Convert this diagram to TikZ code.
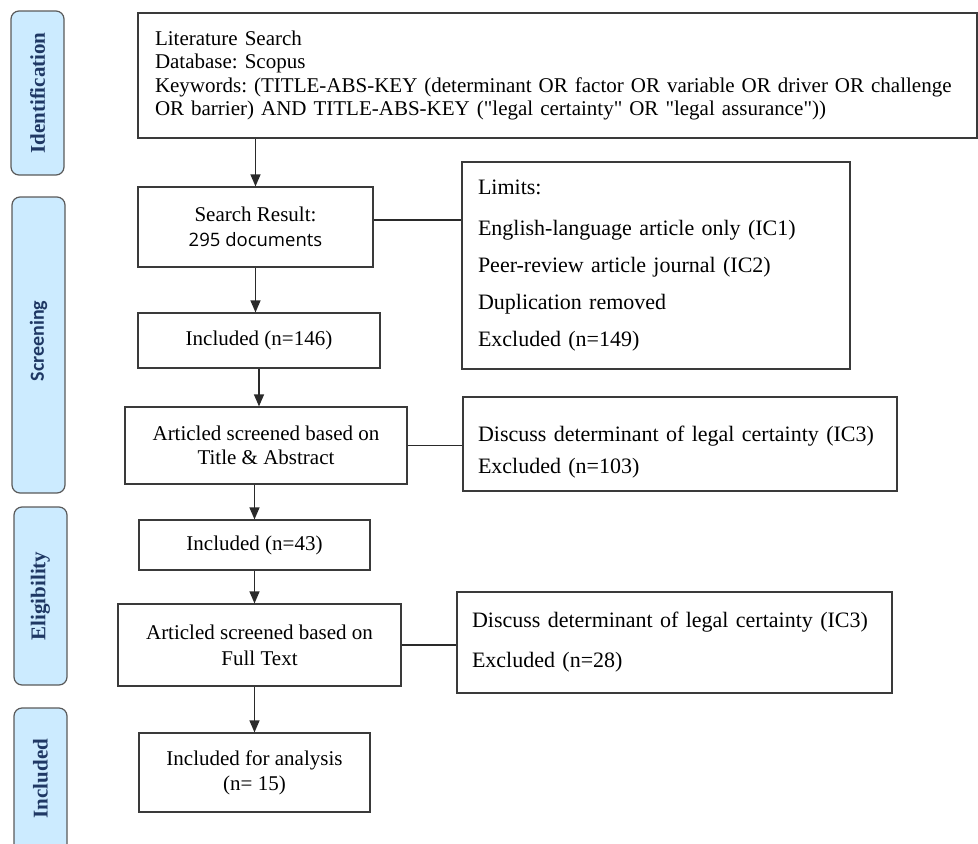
\documentclass[tikz,border=0pt]{standalone}
\usepackage{fontspec}
\setmainfont{Liberation Serif}[Ligatures=TeXOff]
\newfontfamily\osans{Open Sans}
\newfontfamily\carlf{Carlito}
\usetikzlibrary{arrows.meta}
\definecolor{stagefill}{HTML}{CCEBFF}
\definecolor{stagedraw}{HTML}{5A5A5A}
\definecolor{stagetext}{HTML}{1F3864}
\definecolor{boxdraw}{HTML}{3A3A3A}
\definecolor{linecol}{HTML}{2A2A2A}
\frenchspacing
\begin{document}
\begin{tikzpicture}[x=1pt,y=-1pt,
  box/.style={draw=boxdraw, line width=1.2pt, inner sep=0pt, align=center, font=\fontsize{21}{25}\selectfont},
  rbox/.style={draw=boxdraw, line width=1.2pt, inner ysep=0pt, align=left},
  stage/.style={draw=stagedraw, fill=stagefill, line width=1.2pt, rounded corners=8pt, rotate=90, inner sep=0pt, text=stagetext, font=\fontsize{21}{24}\selectfont\bfseries, minimum height=53pt},
  conn/.style={draw=linecol, line width=1.2pt},
  arr/.style={conn, -{Triangle[width=10pt,length=12pt]}}]
\useasboundingbox (0,0) rectangle (978,844);
\clip (0,0) rectangle (978,844);

% stage labels
\node[stage, minimum width=164pt] (sid) at (37.5,93) {Identification};
\node[stage, minimum width=296pt] (sscr) at (38.5,345) {\hspace*{8pt}{\carlf\fontsize{20}{24}\selectfont\bfseries Screening}};
\node[stage, minimum width=178pt] (selig) at (40.5,596) {Eligibility};
\node[stage, minimum width=170pt] (sinc) at (40.5,793) {\hspace*{29pt}Included};

% main boxes
\node[rbox, inner xsep=17pt, text width=805pt, minimum height=125pt, font=\fontsize{21}{23.3}\selectfont] (top) at (557.5,75.5)
  {Literature Search\\Database: Scopus\\Keywords: (TITLE-ABS-KEY (determinant OR factor OR variable OR driver OR challenge\\OR barrier) AND TITLE-ABS-KEY ("legal certainty" OR "legal assurance"))};

\node[box, minimum width=235pt, minimum height=80pt] (sr) at (255.5,227)
  {Search Result:\\{\osans\fontsize{18.5}{25}\selectfont 295 documents}};
\node[box, minimum width=242pt, minimum height=55pt] (inc146) at (259,340.5) {Included (n=146)};
\node[box, minimum width=282pt, minimum height=77pt, font=\fontsize{21}{24}\selectfont] (ta) at (266,445.5)
  {Articled screened based on\\Title \& Abstract};
\node[box, minimum width=231pt, minimum height=50pt] (inc43) at (254.5,545) {Included (n=43)};
\node[box, minimum width=283pt, minimum height=82pt, font=\fontsize{21}{26}\selectfont] (ft) at (259.5,645)
  {Articled screened based on\\Full Text};
\node[box, minimum width=231pt, minimum height=79pt] (fin) at (254.5,772.5)
  {Included for analysis\\(n= 15)};

% side boxes
\node[rbox, inner xsep=16pt, text width=356pt, minimum height=207pt, font=\fontsize{22}{37}\selectfont] (lim) at (656,265.5)
  {Limits:\\[4pt]English-language article only (IC1)\\Peer-review article journal (IC2)\\Duplication removed\\Excluded (n=149)};
\node[rbox, inner xsep=15pt, text width=404pt, minimum height=94pt, font=\fontsize{22}{32}\selectfont] (ic3a) at (680,444)
  {\rule{0pt}{32pt}Discuss determinant of legal certainty (IC3)\\Excluded (n=103)};
\node[rbox, inner xsep=15pt, text width=405pt, minimum height=101pt, font=\fontsize{22}{40}\selectfont] (ic3b) at (674.5,642.5)
  {Discuss determinant of legal certainty (IC3)\\Excluded (n=28)};

% connectors
\draw[arr] (top.south -| sr.north) -- (sr.north);
\draw[arr] (sr.south) -- (sr.south |- inc146.north);
\draw[arr] (inc146.south) -- (inc146.south |- ta.north);
\draw[arr] (ta.south -| inc43.north) -- (inc43.north);
\draw[arr] (inc43.south) -- (inc43.south |- ft.north);
\draw[arr] (ft.south -| fin.north) -- (fin.north);
\coordinate (srj) at ([yshift=7pt]sr.east);
\draw[conn] (srj) -- (srj -| lim.west);
\draw[conn] (ta.east) -- (ta.east -| ic3a.west);
\draw[conn] (ft.east) -- (ft.east -| ic3b.west);
\end{tikzpicture}
\end{document}
